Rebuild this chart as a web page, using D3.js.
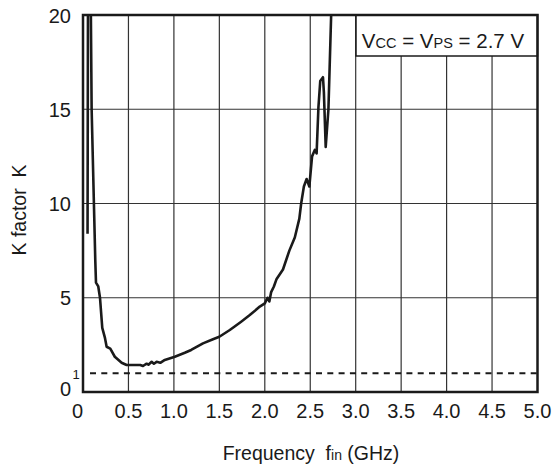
<!DOCTYPE html>
<html><head><meta charset="utf-8">
<script src="https://cdn.jsdelivr.net/npm/d3@7"></script>
<style>
html,body{margin:0;padding:0;background:#fff;}
svg{display:block;font-family:"Liberation Sans",Arial,Helvetica,sans-serif;}
text{white-space:pre;}
</style></head>
<body>
<svg id="chart" width="552" height="468"></svg>
<script>
// ---- data ----
const freqGHz = [0.05,0.055,0.085,0.095,0.12,0.135,0.143,0.168,0.187,0.212,0.24,0.26,0.30,0.35,0.425,0.48,0.55,0.63,0.66,0.70,0.72,0.755,0.78,0.81,0.85,0.90,1.01,1.12,1.19,1.32,1.43,1.50,1.615,1.74,1.835,1.945,2.00,2.03,2.05,2.07,2.10,2.13,2.20,2.27,2.33,2.38,2.40,2.43,2.46,2.49,2.52,2.55,2.57,2.59,2.61,2.64,2.65,2.67,2.70,2.73,2.75];
const kFactor = [8.4,21,21,15,10,7,5.8,5.6,5.0,3.4,2.9,2.4,2.3,1.87,1.55,1.43,1.43,1.43,1.38,1.5,1.45,1.6,1.5,1.6,1.55,1.7,1.87,2.08,2.23,2.58,2.8,2.93,3.29,3.73,4.08,4.53,4.7,5.0,4.8,5.3,5.6,6.0,6.5,7.5,8.2,9.2,10.0,10.9,11.3,10.9,12.5,12.84,12.66,15.1,16.5,16.7,15.9,13.0,15.0,20,22];
const xTicks = [0,0.5,1.0,1.5,2.0,2.5,3.0,3.5,4.0,4.5,5.0];
const xTickLabels = ["0","0.5","1.0","1.5","2.0","2.5","3.0","3.5","4.0","4.5","5.0"];
const yTicks = [0,5,10,15,20];
const yTickLabels = ["0","5","10","15","20"];
const refK = 1;

// ---- layout ----
const svg = d3.select("#chart");
const L = 83, R = 537.5, T = 15, B = 392;
const x = d3.scaleLinear().domain([0,5]).range([L,R]);
const y = d3.scaleLinear().domain([0,20]).range([B,T]);
const ink = "#1a1a1a";

svg.append("defs").append("clipPath").attr("id","plot")
  .append("rect").attr("x",L).attr("y",T).attr("width",R-L).attr("height",B-T);

// grid
svg.append("g").selectAll("line").data(xTicks.slice(1,-1)).join("line")
  .attr("x1",d=>x(d)).attr("x2",d=>x(d)).attr("y1",T).attr("y2",B)
  .attr("stroke","#333").attr("stroke-width",1.2);
svg.append("g").selectAll("line").data(yTicks.slice(1,-1)).join("line")
  .attr("x1",L).attr("x2",R).attr("y1",d=>y(d)).attr("y2",d=>y(d))
  .attr("stroke","#333").attr("stroke-width",1.2);

// reference dashed line K=1
svg.append("line").attr("x1",L+7).attr("x2",R).attr("y1",y(refK)).attr("y2",y(refK))
  .attr("stroke",ink).attr("stroke-width",2).attr("stroke-dasharray","6,5.3");

// legend box (covers grid)
const lg = svg.append("g");
lg.append("rect").attr("x",356).attr("y",T).attr("width",R-356).attr("height",41)
  .attr("fill","#fff").attr("stroke",ink).attr("stroke-width",1.5);
const lt = lg.append("text").attr("x",443).attr("y",48).attr("text-anchor","middle")
  .attr("font-size",20.5).attr("fill",ink);
lt.append("tspan").text("V");
lt.append("tspan").attr("font-size",14.5).text("CC");
lt.append("tspan").text(" = V");
lt.append("tspan").attr("font-size",14.5).text("PS");
lt.append("tspan").text(" = 2.7 V");

// curve
const line = d3.line().x((d,i)=>x(freqGHz[i])).y(d=>y(d));
svg.append("path").datum(kFactor).attr("clip-path","url(#plot)")
  .attr("d",line).attr("fill","none").attr("stroke",ink)
  .attr("stroke-width",2.6).attr("stroke-linejoin","round");

// frame
svg.append("rect").attr("x",L).attr("y",T).attr("width",R-L).attr("height",B-T)
  .attr("fill","none").attr("stroke",ink).attr("stroke-width",2.5);

// x tick labels
svg.append("g").selectAll("text").data(xTicks).join("text")
  .attr("x",(d,i)=>i===0? x(d)-5.5 : x(d)).attr("y",417.5)
  .attr("text-anchor","middle").attr("font-size",20).attr("fill",ink)
  .text((d,i)=>xTickLabels[i]);

// y tick labels
svg.append("g").selectAll("text").data(yTicks).join("text")
  .attr("x",71).attr("y",d=>d===0? y(d)+4 : y(d)+7.5)
  .attr("text-anchor","end").attr("font-size",20).attr("fill",ink)
  .text((d,i)=>yTickLabels[i]);
svg.append("text").attr("x",72.5).attr("y",379).attr("font-size",13).attr("fill",ink).text(String(refK));

// axis titles
const xt = svg.append("text").attr("x",311).attr("y",460).attr("text-anchor","middle")
  .attr("font-size",19.5).attr("fill",ink);
xt.append("tspan").text("Frequency  f");
xt.append("tspan").attr("font-size",14).text("in");
xt.append("tspan").text(" (GHz)");

svg.append("text").attr("transform","translate(26,210) rotate(-90)")
  .attr("text-anchor","middle").attr("font-size",19.5).attr("fill",ink)
  .text("K factor  K");
</script>
</body></html>
